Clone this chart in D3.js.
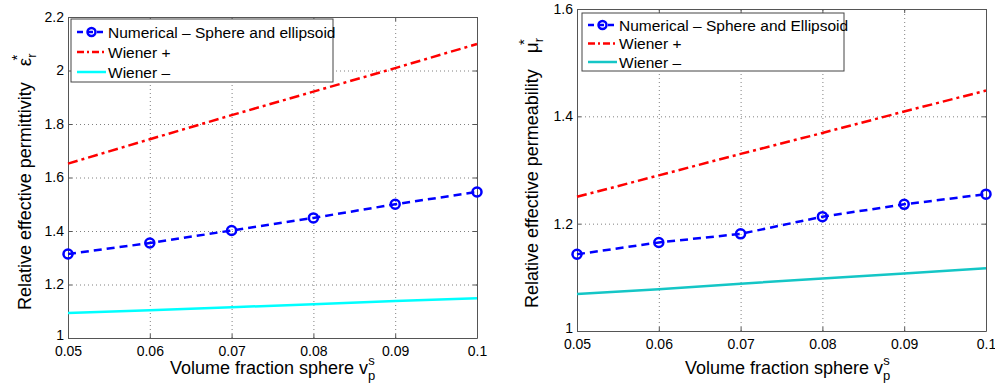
<!DOCTYPE html>
<html>
<head>
<meta charset="utf-8">
<script src="https://cdn.jsdelivr.net/npm/d3@7"></script>
<style>
  body { margin: 0; background: #fff; }
  svg { font-family: "Liberation Sans", Arial, sans-serif; }
  .grid line { stroke: #808080; stroke-dasharray: 1,3; }
  .grid path { display: none; }
  .axis path, .axis line { stroke: #555; }
  .axis text { fill: #000; font-size: 14px; }
</style>
</head>
<body>
<svg id="chart" width="995" height="391"></svg>
<script>
// Data
var volumeFraction = [0.05, 0.06, 0.07, 0.08, 0.09, 0.1];

var permNumerical   = [1.314, 1.355, 1.402, 1.449, 1.500, 1.546];
var permWienerPlus  = [1.652, 1.743, 1.833, 1.921, 2.009, 2.099];
var permWienerMinus = [1.093, 1.104, 1.115, 1.126, 1.138, 1.149];
var permTicks = [1, 1.2, 1.4, 1.6, 1.8, 2, 2.2];

var muNumerical   = [1.143, 1.165, 1.181, 1.213, 1.236, 1.255];
var muWienerPlus  = [1.250, 1.290, 1.330, 1.369, 1.409, 1.448];
var muWienerMinus = [1.069, 1.078, 1.088, 1.098, 1.107, 1.117];
var muTicks = [1, 1.2, 1.4, 1.6];

var svg = d3.select("#chart");
var fmt = function(d){ return String(+d.toFixed(2)); };

function drawPanel(opt) {
  var x = d3.scaleLinear().domain([0.05, 0.1]).range([opt.left, opt.right]);
  var y = d3.scaleLinear().domain(opt.yDomain).range([opt.bottom, opt.top]);
  var g = svg.append("g");

  // grid
  g.append("g").attr("class", "grid")
    .attr("transform", "translate(0," + opt.bottom + ")")
    .call(d3.axisBottom(x).tickValues(volumeFraction).tickSize(-(opt.bottom - opt.top)).tickFormat(""));
  g.append("g").attr("class", "grid")
    .attr("transform", "translate(" + opt.left + ",0)")
    .call(d3.axisLeft(y).tickValues(opt.yTicks).tickSize(-(opt.right - opt.left)).tickFormat(""));

  // axes, ticks inside
  g.append("g").attr("class", "axis")
    .attr("transform", "translate(0," + opt.bottom + ")")
    .call(d3.axisBottom(x).tickValues(volumeFraction).tickSizeInner(-4).tickSizeOuter(0).tickPadding(8).tickFormat(fmt));
  g.append("g").attr("class", "axis")
    .attr("transform", "translate(0," + opt.top + ")")
    .call(d3.axisTop(x).tickValues(volumeFraction).tickSizeInner(-4).tickSizeOuter(0).tickFormat(""));
  var ya = g.append("g").attr("class", "axis")
    .attr("transform", "translate(" + opt.left + ",0)")
    .call(d3.axisLeft(y).tickValues(opt.yTicks).tickSizeInner(-4).tickSizeOuter(0).tickPadding(4).tickFormat(fmt));
  // bottom label sits a bit higher, like the original
  ya.selectAll(".tick text").filter(function(d){ return d === opt.yDomain[0]; })
    .attr("dy", "0.1em");
  g.append("g").attr("class", "axis")
    .attr("transform", "translate(" + opt.right + ",0)")
    .call(d3.axisRight(y).tickValues(opt.yTicks).tickSizeInner(-4).tickSizeOuter(0).tickFormat(""));

  var line = d3.line()
    .x(function(d, i){ return x(volumeFraction[i]); })
    .y(function(d){ return y(d); });

  g.append("path").datum(opt.minus)
    .attr("d", line).attr("fill", "none")
    .attr("stroke", opt.cyan).attr("stroke-width", 2.5);
  g.append("path").datum(opt.plus)
    .attr("d", line).attr("fill", "none")
    .attr("stroke", "#ff0000").attr("stroke-width", 2.5)
    .attr("stroke-dasharray", "10,4,3,4");
  g.append("path").datum(opt.numerical)
    .attr("d", line).attr("fill", "none")
    .attr("stroke", "#0000ff").attr("stroke-width", 2.5)
    .attr("stroke-dasharray", "8,5");
  g.selectAll("circle.mk").data(opt.numerical).enter()
    .append("circle").attr("class", "mk")
    .attr("cx", function(d, i){ return x(volumeFraction[i]); })
    .attr("cy", function(d){ return y(d); })
    .attr("r", 4.5)
    .attr("fill", "none").attr("stroke", "#0000ff").attr("stroke-width", 2.5);

  // legend
  var L = opt.legend;
  var lg = g.append("g").attr("transform", "translate(" + L.x + "," + L.y + ")");
  lg.append("rect").attr("width", L.w).attr("height", L.h)
    .attr("fill", "#fff").attr("stroke", "#444").attr("stroke-width", 1);
  var items = [
    {label: opt.numLabel, color: "#0000ff", dash: "6,4", marker: true},
    {label: "Wiener +", color: "#ff0000", dash: "7,3,2,3", marker: false},
    {label: "Wiener \u2013", color: opt.cyan, dash: null, marker: false}
  ];
  items.forEach(function(it, i){
    var cy = L.row0 + i * L.step;
    lg.append("line").attr("x1", 6).attr("x2", 35).attr("y1", cy).attr("y2", cy)
      .attr("stroke", it.color).attr("stroke-width", 2.5)
      .attr("stroke-dasharray", it.dash);
    if (it.marker) {
      lg.append("circle").attr("cx", 20.5).attr("cy", cy).attr("r", 4)
        .attr("fill", "none").attr("stroke", it.color).attr("stroke-width", 2.5);
    }
    lg.append("text").attr("x", 37).attr("y", cy + 5.5)
      .style("font-size", "15.5px").text(it.label);
  });

  // y label
  var yl = g.append("text")
    .attr("transform", "translate(" + opt.yLabelX + "," + opt.yLabelY + ") rotate(-90)")
    .style("font-size", "18px");
  yl.append("tspan").text(opt.yLabel);
  yl.append("tspan").attr("dx", 16).style("font-size", "19px").text(opt.symbol);
  yl.append("tspan").attr("dy", 5).style("font-size", "13px").text("r");
  yl.append("tspan").attr("dx", -7).attr("dy", -14).style("font-size", "15px").text("*");

  // x label
  var xl = g.append("text")
    .attr("x", opt.xLabelX).attr("y", 374)
    .style("font-size", "18px");
  xl.append("tspan").text("Volume fraction sphere v");
  xl.append("tspan").attr("dy", 6).style("font-size", "13px").text("p");
  xl.append("tspan").attr("dx", -7).attr("dy", -15).style("font-size", "13px").text("s");
}

drawPanel({
  left: 68, right: 477, top: 17, bottom: 338,
  yDomain: [1, 2.2], yTicks: permTicks,
  numerical: permNumerical, plus: permWienerPlus, minus: permWienerMinus,
  cyan: "#00ffff",
  numLabel: "Numerical \u2013 Sphere and ellipsoid",
  legend: {x: 71, y: 19, w: 262, h: 63, row0: 13, step: 20},
  yLabel: "Relative effective permittivity", symbol: "\u03b5",
  yLabelX: 31, yLabelY: 310, xLabelX: 170
});

drawPanel({
  left: 577, right: 986, top: 9, bottom: 331,
  yDomain: [1, 1.6], yTicks: muTicks,
  numerical: muNumerical, plus: muWienerPlus, minus: muWienerMinus,
  cyan: "#14c6c6",
  numLabel: "Numerical \u2013 Sphere and Ellipsoid",
  legend: {x: 582, y: 13, w: 262, h: 58, row0: 12, step: 18.5},
  yLabel: "Relative effective permeability", symbol: "\u03bc",
  yLabelX: 538, yLabelY: 308, xLabelX: 685
});
</script>
</body>
</html>
